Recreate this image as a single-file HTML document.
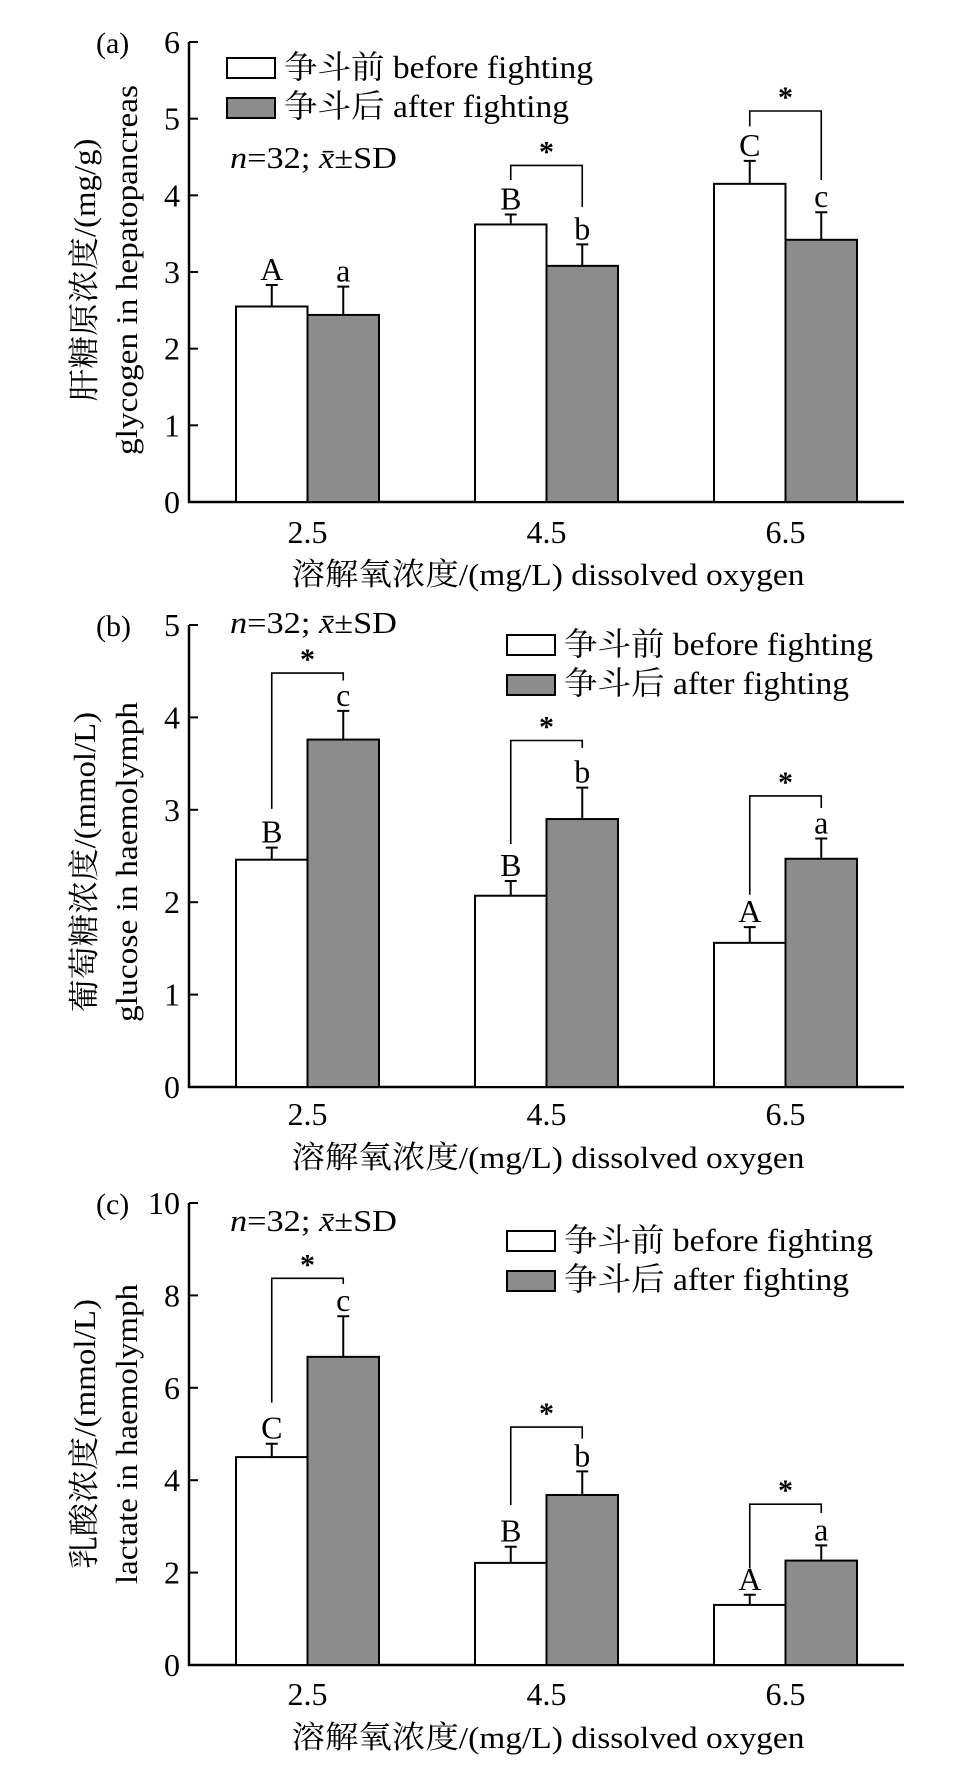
<!DOCTYPE html>
<html><head><meta charset="utf-8"><style>
html,body{margin:0;padding:0;background:#fff;}
svg text{font-family:"Liberation Serif","Times New Roman","Nimbus Roman","Noto Serif CJK SC","Noto Sans CJK SC",serif;fill:#000;}
</style></head><body>
<svg id="fig" xmlns="http://www.w3.org/2000/svg" width="970" height="1766" viewBox="0 0 970 1766"></svg>
<script>
// ---- data ----
const groupLabels = ["2.5", "4.5", "6.5"];
// panel a
const aBefore = [2.55, 3.62, 4.15];
const aAfter = [2.44, 3.08, 3.42];
const aBeforeSD = [0.28, 0.13, 0.30];
const aAfterSD = [0.37, 0.28, 0.36];
const aLettersBefore = ["A", "B", "C"];
const aLettersAfter = ["a", "b", "c"];
const aBracket = [null, 4.39, 5.1];
const aBracketLeft = [null, 4.2, 4.9];
const aBracketRight = [null, 3.85, 4.2];
const aTicks = [0, 1, 2, 3, 4, 5, 6];
// panel b
const bBefore = [2.46, 2.07, 1.56];
const bAfter = [3.76, 2.90, 2.47];
const bBeforeSD = [0.13, 0.16, 0.17];
const bAfterSD = [0.31, 0.34, 0.22];
const bLettersBefore = ["B", "B", "A"];
const bLettersAfter = ["c", "b", "a"];
const bBracket = [4.48, 3.75, 3.15];
const bBracketLeft = [3.01, 2.63, 2.08];
const bBracketRight = [4.40, 3.67, 3.02];
const bTicks = [0, 1, 2, 3, 4, 5];
// panel c
const cBefore = [4.5, 2.21, 1.3];
const cAfter = [6.67, 3.68, 2.26];
const cBeforeSD = [0.29, 0.35, 0.22];
const cAfterSD = [0.88, 0.51, 0.33];
const cLettersBefore = ["C", "B", "A"];
const cLettersAfter = ["c", "b", "a"];
const cBracket = [8.37, 5.15, 3.48];
const cBracketLeft = [5.68, 3.46, 2.09];
const cBracketRight = [8.25, 4.9, 3.29];
const cTicks = [0, 2, 4, 6, 8, 10];

const NS = "http://www.w3.org/2000/svg";
const svg = document.getElementById("fig");
function mk(tag, attrs, parent, txt) {
  const e = document.createElementNS(NS, tag);
  for (const k in attrs) e.setAttribute(k, attrs[k]);
  if (txt !== undefined) e.textContent = txt;
  (parent || svg).appendChild(e);
  return e;
}

const panels = [
  {id:"a", tag:"(a)", y0:502, yTop:42, max:6, ticks:aTicks, before:aBefore, after:aAfter, bsd:aBeforeSD, asd:aAfterSD,
   lb:aLettersBefore, la:aLettersAfter, br:aBracket, bl:aBracketLeft, brr:aBracketRight,
   yl1:"肝糖原浓度/(mg/g)", yl1len:263, yl2:"glycogen in hepatopancreas", yl2len:370, ylc:270,
   legX:227, legY:58, nX:230, nY:168, tickY:543, xlY:585},
  {id:"b", tag:"(b)", y0:1087, yTop:625, max:5, ticks:bTicks, before:bBefore, after:bAfter, bsd:bBeforeSD, asd:bAfterSD,
   lb:bLettersBefore, la:bLettersAfter, br:bBracket, bl:bBracketLeft, brr:bBracketRight,
   yl1:"葡萄糖浓度/(mmol/L)", yl1len:300, yl2:"glucose in haemolymph", yl2len:320, ylc:862,
   legX:507, legY:635, nX:230, nY:633, tickY:1125, xlY:1168},
  {id:"c", tag:"(c)", y0:1665, yTop:1203, max:10, ticks:cTicks, before:cBefore, after:cAfter, bsd:cBeforeSD, asd:cAfterSD,
   lb:cLettersBefore, la:cLettersAfter, br:cBracket, bl:cBracketLeft, brr:cBracketRight,
   yl1:"乳酸浓度/(mmol/L)", yl1len:270, yl2:"lactate in haemolymph", yl2len:300, ylc:1434,
   legX:507, legY:1231, nX:230, nY:1231, tickY:1705, xlY:1748}
];

const axisX = 189, axisEnd = 904, groupStart = 236, groupStep = 239, barW = 71.5;
const GRAY = "#8c8c8c";

panels.forEach(p => {
  const g = mk("g", {});
  
  
  const yScale = v => p.y0 - (p.y0 - p.yTop) * v / p.max;
  const xB = i => groupStart + i * groupStep;
  const ax = mk("path", {d:`M${axisX} ${p.yTop}V${p.y0}H${axisEnd}`, fill:"none", stroke:"#000", "stroke-width":2.5}, g);
  
  
  p.ticks.forEach(t => {
    const y = yScale(t);
    const tk = mk("line", {x1:axisX, x2:axisX + 9, y1:y, y2:y, stroke:"#000", "stroke-width":2}, g);
    
    
    const tl = mk("text", {x:180, y:y + 11, "text-anchor":"end", "font-size":32}, g, String(t));
    
    
  });
  const pt = mk("text", {x:96, y:p.yTop + 11, "font-size":30}, g, p.tag);
  
  
  groupLabels.forEach((lab, i) => {
    const x0 = xB(i), x1 = x0 + barW;
    const wc = x0 + barW / 2, gc = x1 + barW / 2;
    [[wc, p.before[i], p.bsd[i]], [gc, p.after[i], p.asd[i]]].forEach(([cx, v, sd]) => {
      const eb = mk("path", {d:`M${cx} ${yScale(v)}V${yScale(v + sd)}M${cx - 6} ${yScale(v + sd)}H${cx + 6}`, stroke:"#000", "stroke-width":2, fill:"none"}, g);
      
      
    });
    const rb = mk("rect", {x:x0, y:yScale(p.before[i]), width:barW, height:p.y0 - yScale(p.before[i]), fill:"#fff", stroke:"#000", "stroke-width":2}, g);
    
    
    const ra = mk("rect", {x:x1, y:yScale(p.after[i]), width:barW, height:p.y0 - yScale(p.after[i]), fill:GRAY, stroke:"#000", "stroke-width":2}, g);
    
    
    const l1 = mk("text", {x:wc, y:yScale(p.before[i] + p.bsd[i]) - 5, "text-anchor":"middle", "font-size":32}, g, p.lb[i]);
    
    
    const l2 = mk("text", {x:gc, y:yScale(p.after[i] + p.asd[i]) - 5, "text-anchor":"middle", "font-size":32}, g, p.la[i]);
    
    
    if (p.br[i] !== null) {
      const by = yScale(p.br[i]);
      const bk = mk("path", {d:`M${wc} ${yScale(p.bl[i])}V${by}H${gc}V${yScale(p.brr[i])}`, stroke:"#000", "stroke-width":1.6, fill:"none"}, g);
      
      
      const st = mk("text", {x:(wc + gc) / 2, y:by - 4, "text-anchor":"middle", "font-size":30, "font-weight":"bold"}, g, "*");
      
      
    }
    const xl = mk("text", {x:x1, y:p.tickY, "text-anchor":"middle", "font-size":32}, g, lab);
    
    
  });
  const xt = mk("text", {x:548, y:p.xlY, "text-anchor":"middle", "font-size":31, textLength:513, lengthAdjust:"spacingAndGlyphs"}, g, "溶解氧浓度/(mg/L) dissolved oxygen");
  
  
  const yt1 = mk("text", {transform:`translate(95 ${p.ylc}) rotate(-90)`, "text-anchor":"middle", "font-size":31, textLength:p.yl1len, lengthAdjust:"spacingAndGlyphs"}, g, p.yl1);
  
  
  const yt2 = mk("text", {transform:`translate(137 ${p.ylc}) rotate(-90)`, "text-anchor":"middle", "font-size":31, textLength:p.yl2len, lengthAdjust:"spacingAndGlyphs"}, g, p.yl2);
  
  
  const lg = mk("g", {}, g);
  
  
  const s1 = mk("rect", {x:p.legX, y:p.legY, width:48, height:20, fill:"#fff", stroke:"#000", "stroke-width":2}, lg);
  
  
  const t1 = mk("text", {x:p.legX + 57, y:p.legY + 20, "font-size":32, textLength:309, lengthAdjust:"spacingAndGlyphs"}, lg, "争斗前 before fighting");
  
  
  const s2 = mk("rect", {x:p.legX, y:p.legY + 40, width:48, height:20, fill:GRAY, stroke:"#000", "stroke-width":2}, lg);
  
  
  const t2 = mk("text", {x:p.legX + 57, y:p.legY + 59, "font-size":32, textLength:285, lengthAdjust:"spacingAndGlyphs"}, lg, "争斗后 after fighting");
  
  
  const nt = mk("text", {x:p.nX, y:p.nY, "font-size":31, textLength:167, lengthAdjust:"spacingAndGlyphs"}, g);
  
  
  mk("tspan", {"font-style":"italic"}, nt, "n");
  mk("tspan", {}, nt, "=32; ");
  mk("tspan", {"font-style":"italic"}, nt, "x̄");
  mk("tspan", {}, nt, "±SD");
});
</script>
</body></html>
